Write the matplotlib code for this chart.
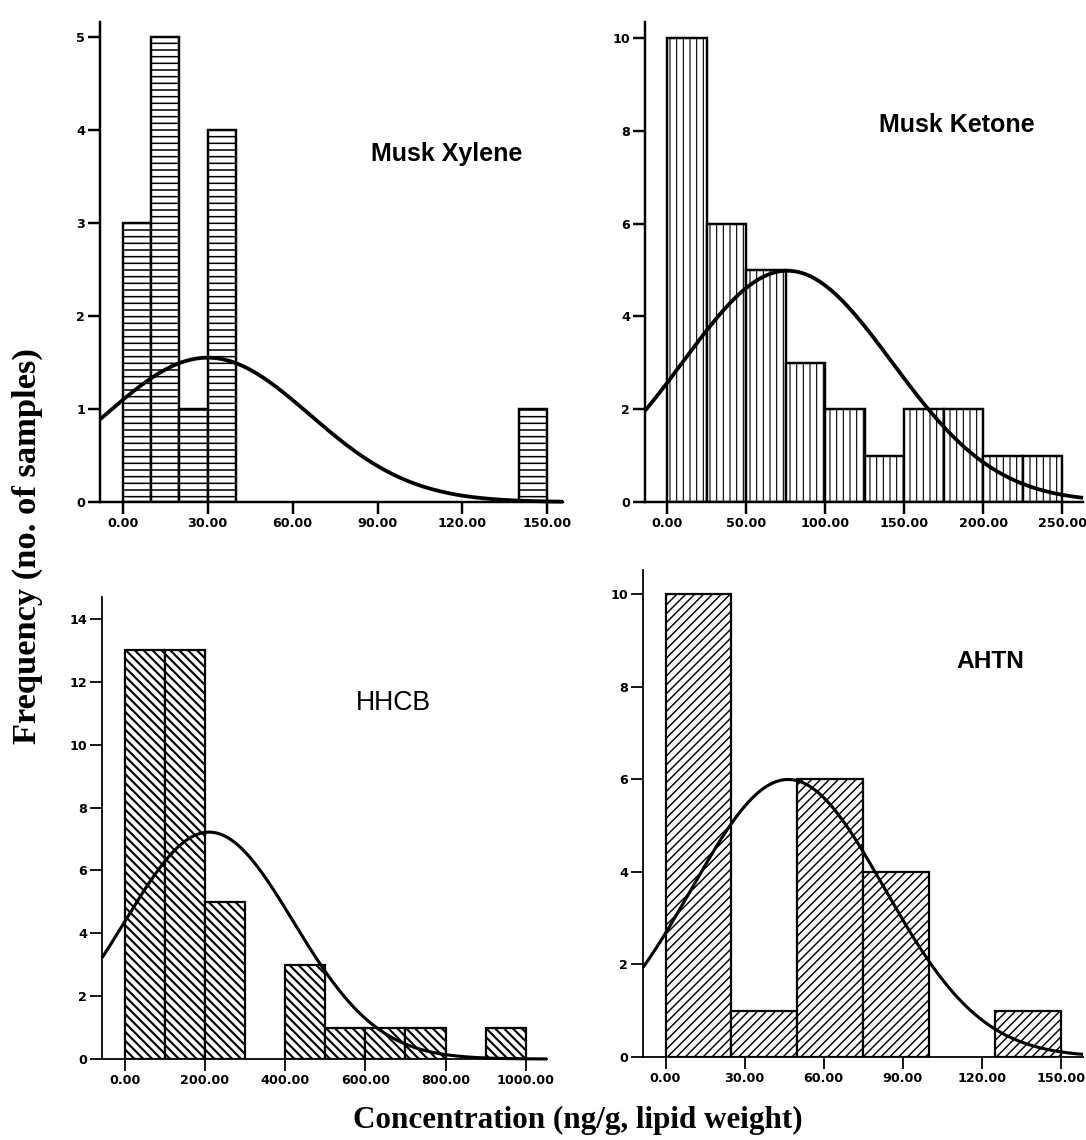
import numpy as np
import matplotlib
matplotlib.use("Agg")
import matplotlib.pyplot as plt

# ---------------- data ----------------
# Musk Xylene
mx_bin_left = [0, 10, 20, 30, 140]
mx_counts = [3, 5, 1, 4, 1]
mx_width = 10
mx_mean, mx_sd = 30.0, 36.0
mx_xticks = [0, 30, 60, 90, 120, 150]
mx_yticks = [0, 1, 2, 3, 4, 5]

# Musk Ketone
mk_bin_left = [0, 25, 50, 75, 100, 125, 150, 175, 200, 225]
mk_counts = [10, 6, 5, 3, 2, 1, 2, 2, 1, 1]
mk_width = 25
mk_mean, mk_sd = 76.0, 66.0
mk_xticks = [0, 50, 100, 150, 200, 250]
mk_yticks = [0, 2, 4, 6, 8, 10]

# HHCB
hh_bin_left = [0, 100, 200, 400, 500, 600, 700, 900]
hh_counts = [13, 13, 5, 3, 1, 1, 1, 1]
hh_width = 100
hh_mean, hh_sd = 210.0, 210.0
hh_xticks = [0, 200, 400, 600, 800, 1000]
hh_yticks = [0, 2, 4, 6, 8, 10, 12, 14]

# AHTN
ah_bin_left = [0, 25, 50, 75, 125]
ah_counts = [10, 1, 6, 4, 1]
ah_width = 25
ah_mean, ah_sd = 46.5, 36.6
ah_xticks = [0, 30, 60, 90, 120, 150]
ah_yticks = [0, 2, 4, 6, 8, 10]

# ---------------- figure ----------------
W, H, DPI = 1086, 1140, 80
fig = plt.figure(figsize=(W / DPI, H / DPI), dpi=DPI)
fig.patch.set_facecolor("white")


def axes_px(l, r, t, b):
    return fig.add_axes([l / W, 1 - b / H, (r - l) / W, (b - t) / H])


def panel(rect, left, counts, width, mean, sd, xticks, yticks, xlim, ylim,
          hatch, title, tpos, tsize, tweight, axlw, barlw, curvelw, hatchlw):
    ax = axes_px(*rect)
    matplotlib.rcParams["hatch.linewidth"] = hatchlw
    bars = ax.bar(left, counts, width=width, align="edge", facecolor="white",
                  edgecolor="black", linewidth=barlw, hatch=hatch, zorder=2)
    for p in bars:
        if hasattr(p, "set_hatch_linewidth"):
            p.set_hatch_linewidth(hatchlw)
    n = sum(counts)
    xs = np.linspace(xlim[0], xlim[1], 500)
    ys = n * width * np.exp(-0.5 * ((xs - mean) / sd) ** 2) / (sd * np.sqrt(2 * np.pi))
    ax.plot(xs, ys, color="black", lw=curvelw, zorder=3, clip_on=False,
            solid_capstyle="butt")
    ax.set_xlim(*xlim)
    ax.set_ylim(*ylim)
    for s in ["top", "right"]:
        ax.spines[s].set_visible(False)
    for s in ["left", "bottom"]:
        ax.spines[s].set_linewidth(axlw)
        ax.spines[s].set_zorder(4)
    ax.set_xticks(xticks)
    ax.set_xticklabels(["%.2f" % v for v in xticks])
    ax.set_yticks(yticks)
    ax.set_yticklabels([str(v) for v in yticks])
    ax.tick_params(axis="both", direction="out", length=10.5, width=axlw,
                   labelsize=11.5, pad=3)
    for lab in ax.get_xticklabels() + ax.get_yticklabels():
        lab.set_fontweight("bold")
        lab.set_family("DejaVu Sans")
    fig.text(tpos[0] / W, 1 - tpos[1] / H, title, ha="center", va="center",
             fontsize=tsize, fontweight=tweight, family="Liberation Sans")
    return ax


panel((100, 563, 22, 502), mx_bin_left, mx_counts, mx_width, mx_mean, mx_sd,
      mx_xticks, mx_yticks, (-8.0, 155.5), (0, 5.16), "--",
      "Musk Xylene", (447, 154), 22.5, "bold", 2.2, 2.2, 3.4, 1.4)

panel((645, 1083, 22, 502), mk_bin_left, mk_counts, mk_width, mk_mean, mk_sd,
      mk_xticks, mk_yticks, (-14.0, 263.0), (0, 10.35), "||",
      "Musk Ketone", (957, 125), 22.5, "bold", 2.2, 2.2, 3.4, 1.0)

panel((102, 547, 597, 1059), hh_bin_left, hh_counts, hh_width, hh_mean, hh_sd,
      hh_xticks, hh_yticks, (-57.0, 1053.0), (0, 14.7), "\\\\\\",
      "HHCB", (393, 703), 24, "normal", 1.6, 2.0, 2.8, 1.9)

panel((643, 1083, 570, 1057), ah_bin_left, ah_counts, ah_width, ah_mean, ah_sd,
      ah_xticks, ah_yticks, (-8.55, 158.3), (0, 10.52), "///",
      "AHTN", (990, 662), 22, "bold", 1.6, 2.0, 2.8, 1.3)

fig.text(27 / W, 1 - 546 / H, "Frequency (no. of samples)", rotation=90,
         ha="center", va="center", fontsize=31, fontweight="bold",
         family="Liberation Serif")
fig.text(578 / W, 1 - 1120 / H, "Concentration (ng/g, lipid weight)",
         ha="center", va="center", fontsize=28, fontweight="bold",
         family="Liberation Serif")

fig.savefig("out.png", dpi=DPI, facecolor="white")
